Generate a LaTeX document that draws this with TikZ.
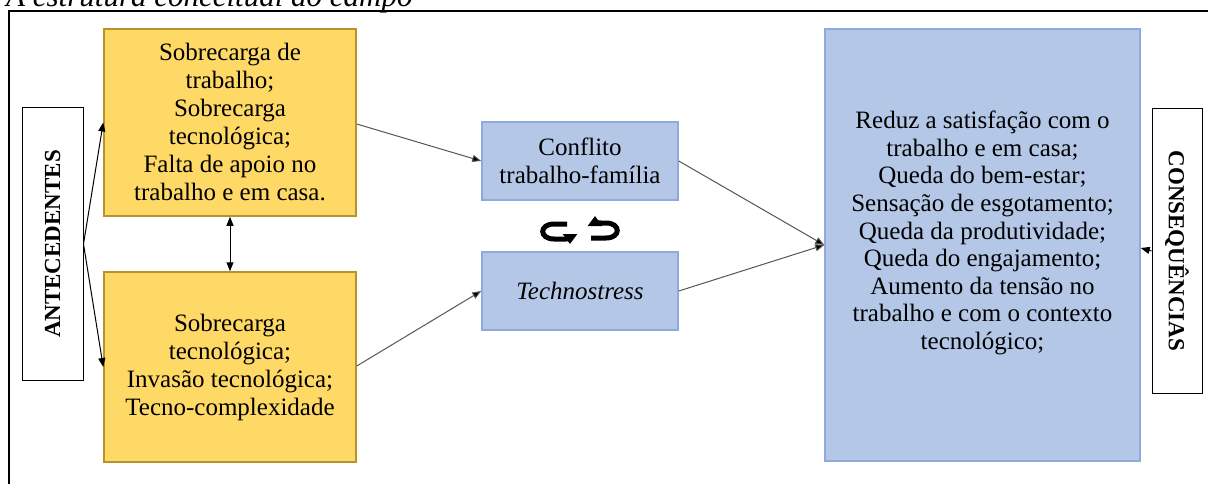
\documentclass[tikz,border=0pt]{standalone}
\usepackage{fontspec}
\setmainfont{Liberation Serif}
\usetikzlibrary{arrows.meta,calc}
\definecolor{yfill}{HTML}{FFD966}
\definecolor{ydraw}{HTML}{B8922A}
\definecolor{bfill}{HTML}{B4C7E7}
\definecolor{bdraw}{HTML}{8FAADC}
\definecolor{lgray}{HTML}{555555}
\begin{document}
\begin{tikzpicture}[x=1pt,y=-1pt,
  ybox/.style={draw=ydraw,fill=yfill,line width=1.5pt,inner sep=0pt,align=center,
     font=\fontsize{25}{28}\selectfont},
  bbox/.style={draw=bdraw,fill=bfill,line width=1.5pt,inner sep=0pt,align=center,
     font=\fontsize{25}{28}\selectfont},
  sidebox/.style={draw=black,fill=white,line width=1pt,inner sep=0pt,
     font=\fontsize{23}{26}\selectfont\bfseries},
  conn/.style={draw=lgray,line width=1pt,-{Triangle[length=9pt,width=7pt,fill=black]}},
  twoway/.style={draw=black,line width=1pt,{Triangle[length=9pt,width=7pt]}-{Triangle[length=9pt,width=7pt]}},
  curl/.style={draw=black,line width=5pt,-{Triangle[length=10pt,width=14pt]}}
]
\useasboundingbox (0,0) rectangle (1208,484);
% title (cut off)
\node[anchor=base west,inner sep=0pt,font=\fontsize{31}{34}\selectfont\itshape] (title) at (6,6.5) {A estrutura conceitual do campo};
% frame
\draw[line width=1.5pt] (9,490) -- (9,11) -- (1215,11);

% left label
\node[sidebox,rotate=90,minimum width=272pt,minimum height=61pt] (ant) at (52.5,244) {ANTECEDENTES};
% yellow boxes
\node[ybox,minimum width=252pt,minimum height=187pt] (y1) at (230,122.5)
  {Sobrecarga de\\trabalho;\\Sobrecarga\\tecnológica;\\Falta de apoio no\\trabalho e em casa.};
\node[ybox,minimum width=252pt,minimum height=190pt] (y2) at (230,367)
  {Sobrecarga\\tecnológica;\\Invasão tecnológica;\\Tecno-complexidade};
% middle blue boxes
\node[bbox,minimum width=196pt,minimum height=78pt] (conf) at (580,161)
  {Conflito\\trabalho-família};
\node[bbox,minimum width=196pt,minimum height=78pt] (tech) at (580,291)
  {\itshape Technostress};
% big box
\node[bbox,minimum width=315pt,minimum height=432pt] (big) at (982.5,245) {};
\node[align=center,inner sep=0pt,font=\fontsize{25}{27.6}\selectfont] (bigtxt) at (982.5,233)
  {Reduz a satisfação com o\\trabalho e em casa;\\Queda do bem-estar;\\Sensação de esgotamento;\\Queda da produtividade;\\Queda do engajamento;\\Aumento da tensão no\\trabalho e com o contexto\\tecnológico;};
% right label
\node[sidebox,rotate=-90,minimum width=284pt,minimum height=50pt] (cons) at (1177,251) {CONSEQUÊNCIAS};

% connectors
\draw[conn,draw=black] (ant.south) -- (y1.west);
\draw[conn,draw=black] (ant.south) -- (y2.west);
\draw[twoway] (y1.south) -- (y2.north);
\draw[conn] ($(y1.east)+(0,1.5)$) -- (conf.west);
\draw[conn] ($(y2.east)+(0,-1)$) -- (tech.west);
\draw[conn] (conf.east) -- (big.west);
\draw[conn] (tech.east) -- (big.west);
\draw[conn,draw=black] (cons.south) -- ($(big.east)+(0,3)$);

% curved arrows between middle boxes
\path[curl] (567,224) -- (554,224) .. controls (539,224) and (539,239) .. (554,239) -- (562,239)
  .. controls (567,239) and (570,240) .. (570,244);
\path[curl] (591,238) -- (606,238) .. controls (621,238) and (621,223) .. (606,223) -- (601,223)
  .. controls (597,223) and (595,221) .. (595,216);
\end{tikzpicture}
\end{document}
